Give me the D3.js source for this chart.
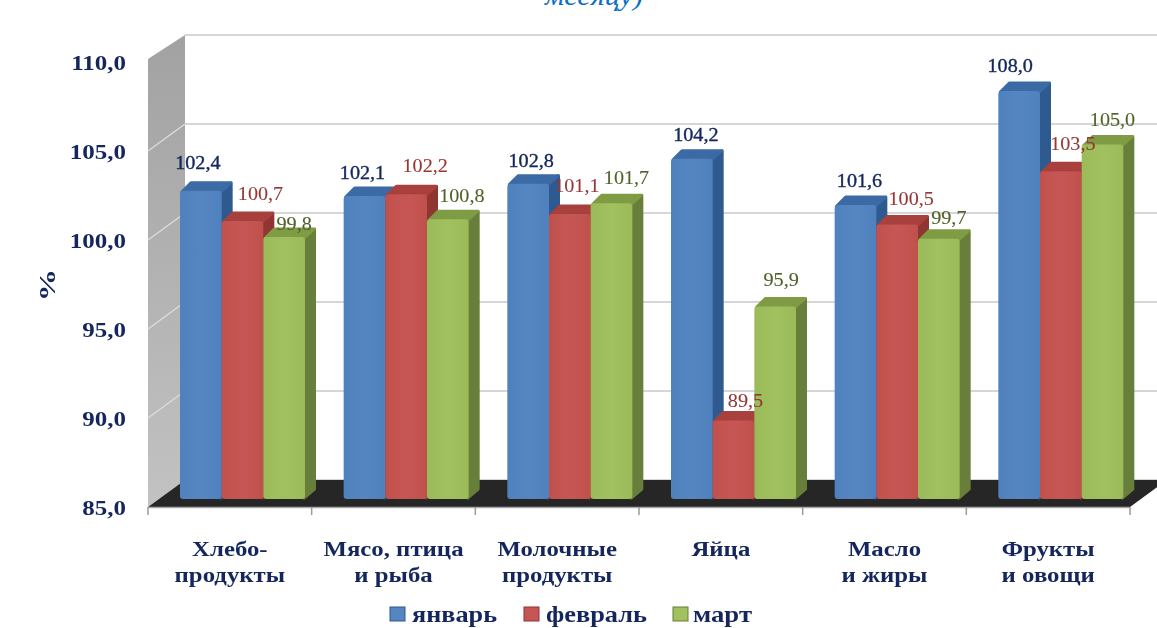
<!DOCTYPE html>
<html lang="ru"><head><meta charset="utf-8">
<script src="https://cdn.jsdelivr.net/npm/d3@7"></script>
<style>html,body{margin:0;padding:0;background:#fff;overflow:hidden}svg{display:block}text{font-family:"Liberation Serif",serif}</style>
</head><body><svg id="c" width="1157" height="628"></svg>
<script>
const categories=[["Хлебо-","продукты"],["Мясо, птица","и рыба"],["Молочные","продукты"],["Яйца"],["Масло","и жиры"],["Фрукты","и овощи"]];
const seriesNames=["январь","февраль","март"];
const january=[102.4,102.1,102.8,104.2,101.6,108.0];
const february=[100.7,102.2,101.1,89.5,100.5,103.5];
const march=[99.8,100.8,101.7,95.9,99.7,105.0];
const yTicks=[85,90,95,100,105,110];
const titleFragment="месяцу)";
const yTitle="%";

const allSeries=[january,february,march];
const W=1157,L=148,R=1130,T=62,B=507,DX=37,DY=-27;
const pal=[
 {front:"#4f81bd",hi:"#5586c2",side:"#2f5a8f",top:"#3a6ba5",text:"#14285c"},
 {front:"#c0504d",hi:"#c65754",side:"#8f3431",top:"#a83f3c",text:"#953735"},
 {front:"#9bbb59",hi:"#a1c05f",side:"#687f3a",top:"#7f9c44",text:"#4f6228"}];
const labelNudge=[
 [[-3,-16],[18,-16],[10,-2]],
 [[-2,-12],[19,-17],[14,-12]],
 [[3,-11],[7,-16],[15,-14]],
 [[4,-12],[12,-8],[6,-15]],
 [[4,-13],[14,-14],[10,-9]],
 [[-9,-14],[12,-16],[10,-13]]];
const svg=d3.select("#c");
const y=d3.scaleLinear().domain([85,110]).range([B,T]);
const x=d3.scaleBand().domain(d3.range(categories.length)).range([L,R]);
const xs=d3.scaleBand().domain(d3.range(3)).range([32,157]);
const fmt=v=>d3.format(".1f")(v).replace(".",",");
const defs=svg.append("defs");
pal.forEach((p,i)=>{const g=defs.append("linearGradient").attr("id","g"+i);
 g.append("stop").attr("offset","0").attr("stop-color",p.front);
 g.append("stop").attr("offset","0.5").attr("stop-color",p.hi);
 g.append("stop").attr("offset","1").attr("stop-color",p.front);});
const wg=defs.append("linearGradient").attr("id","wall").attr("x1",0).attr("x2",0).attr("y1",0).attr("y2",1);
wg.append("stop").attr("offset","0").attr("stop-color","#a2a2a2");
wg.append("stop").attr("offset","1").attr("stop-color","#c2c2c2");
const blur=defs.append("filter").attr("id","soft").attr("x","-5%").attr("y","-5%").attr("width","110%").attr("height","110%");
blur.append("feGaussianBlur").attr("stdDeviation",0.6);
const tblur=defs.append("filter").attr("id","softText").attr("x","-10%").attr("y","-20%").attr("width","120%").attr("height","140%");
tblur.append("feGaussianBlur").attr("stdDeviation",0.3);

const poly=pts=>"M"+pts.map(p=>p.join(",")).join("L")+"Z";
function stretch(sel,k){sel.each(function(){const l=this.getComputedTextLength();
 d3.select(this).attr("textLength",l*k).attr("lengthAdjust","spacingAndGlyphs");});}

// title fragment clipped by top edge, as in the reference
svg.append("text").text(titleFragment).attr("x",594).attr("y",5).attr("text-anchor","middle")
 .attr("font-size",27).attr("font-style","italic").attr("fill","#0a70c4").call(stretch,1.12);

const scene=svg.append("g").attr("filter","url(#soft)");
// walls and floor
scene.append("path").attr("d",poly([[L,T-3],[L+DX,T+DY],[L+DX,B+DY],[L,B]])).attr("fill","url(#wall)");
scene.selectAll(".grid").data(yTicks).join("line").attr("x1",L+DX).attr("x2",W)
 .attr("y1",d=>y(d)+DY).attr("y2",d=>y(d)+DY).attr("stroke","#d6d6d6").attr("stroke-width",1.8);
scene.selectAll(".wgrid").data(yTicks.slice(1,-1)).join("line").attr("x1",L).attr("x2",L+DX)
 .attr("y1",d=>y(d)).attr("y2",d=>y(d)+DY).attr("stroke","#dcdcdc").attr("stroke-width",1.4);
scene.append("path").attr("d",poly([[L,B],[R,B],[R+DX,B+DY],[L+DX,B+DY]])).attr("fill","#262626");
scene.append("line").attr("x1",L).attr("x2",R).attr("y1",B+.5).attr("y2",B+.5).attr("stroke","#a8a8a8").attr("stroke-width",1.6);
scene.selectAll(".tick").data(d3.range(categories.length+1)).join("line")
 .attr("x1",i=>L+i*x.step()).attr("x2",i=>L+i*x.step()).attr("y1",B).attr("y2",B+8).attr("stroke","#9a9a9a").attr("stroke-width",1.5);

// bars
const BAR_BASE=499,OX=11,OY=-10;
const rows=[];
allSeries.forEach((vals,s)=>vals.forEach((v,c)=>rows.push({s,c,v})));
rows.sort((a,b)=>a.c-b.c||a.s-b.s);
const bars=scene.selectAll(".bar").data(rows).join("g");
bars.each(function(d){
 const g=d3.select(this),p=pal[d.s];
 const x0=x(d.c)+xs(d.s),x1=x0+xs.bandwidth(),t=y(d.v)-6.5;
 const j=n=>n.attr("stroke-linejoin","round").attr("stroke-width",3);
 g.append("path").attr("d",poly([[x1-1,t+1],[x1+OX-1.5,t+OY+2],[x1+OX-1.5,BAR_BASE+OY],[x1-1,BAR_BASE-1]])).attr("fill",p.side).attr("stroke",p.side).call(j);
 g.append("path").attr("d",poly([[x0+2,t+1],[x0+OX,t+OY+2],[x1+OX-2,t+OY+2],[x1-1,t+1]])).attr("fill",p.top).attr("stroke",p.top).call(j);
 g.append("rect").attr("x",x0).attr("y",t).attr("width",xs.bandwidth()).attr("height",BAR_BASE-t).attr("rx",3).attr("fill",`url(#g${d.s})`);
});
const textLayer=svg.append("g").attr("filter","url(#softText)");
// data labels
textLayer.selectAll(".dl").data(rows).join("text").text(d=>fmt(d.v))
 .attr("x",d=>x(d.c)+xs(d.s)+xs.bandwidth()/2+labelNudge[d.c][d.s][0])
 .attr("y",d=>y(d.v)-18+labelNudge[d.c][d.s][1]+6)
 .attr("text-anchor","middle").attr("font-size",18).attr("fill",d=>pal[d.s].text)
 .attr("stroke",d=>pal[d.s].text).attr("stroke-width",d=>d.s==0?0.35:0.1).call(stretch,1.12);

// y axis
const ax=textLayer.append("g").attr("transform",`translate(${L},1)`)
 .call(d3.axisLeft(y).tickValues(yTicks).tickSize(0).tickPadding(22).tickFormat(fmt));
ax.select(".domain").remove();
ax.selectAll("text").attr("font-size",20).attr("font-weight","bold").attr("fill","#14285c")
 .style("font-family",'"Liberation Serif",serif').call(stretch,1.25);
textLayer.append("text").text(yTitle).attr("transform","translate(55,285) rotate(-90)").attr("text-anchor","middle")
 .attr("font-size",24).attr("font-weight","bold").attr("fill","#14285c").call(stretch,1.35);

// category labels
const cat=textLayer.selectAll(".cat").data(categories).join("g").attr("transform",(d,i)=>`translate(${x(i)+x.bandwidth()/2},0)`);
cat.each(function(lines){d3.select(this).selectAll("text").data(lines).join("text").text(d=>d)
 .attr("y",(d,i)=>556+i*26).attr("text-anchor","middle").attr("font-size",20).attr("font-weight","bold").attr("fill","#14285c").call(stretch,1.24);});

// legend
const textW=[85,101,59];
const textStart=[412,546,693];
const swatchX=[390,524,673];
const leg=textLayer.selectAll(".leg").data(seriesNames).join("g");
leg.append("rect").attr("x",(d,i)=>swatchX[i]).attr("y",607).attr("width",15).attr("height",14).attr("fill",(d,i)=>pal[i].hi).attr("stroke",(d,i)=>pal[i].side).attr("stroke-width",1);
leg.append("text").text(d=>d).attr("x",(d,i)=>textStart[i]).attr("y",622).attr("font-size",23).attr("font-weight","bold").attr("fill","#14285c")
 .attr("textLength",(d,i)=>textW[i]).attr("lengthAdjust","spacingAndGlyphs");
</script></body></html>
